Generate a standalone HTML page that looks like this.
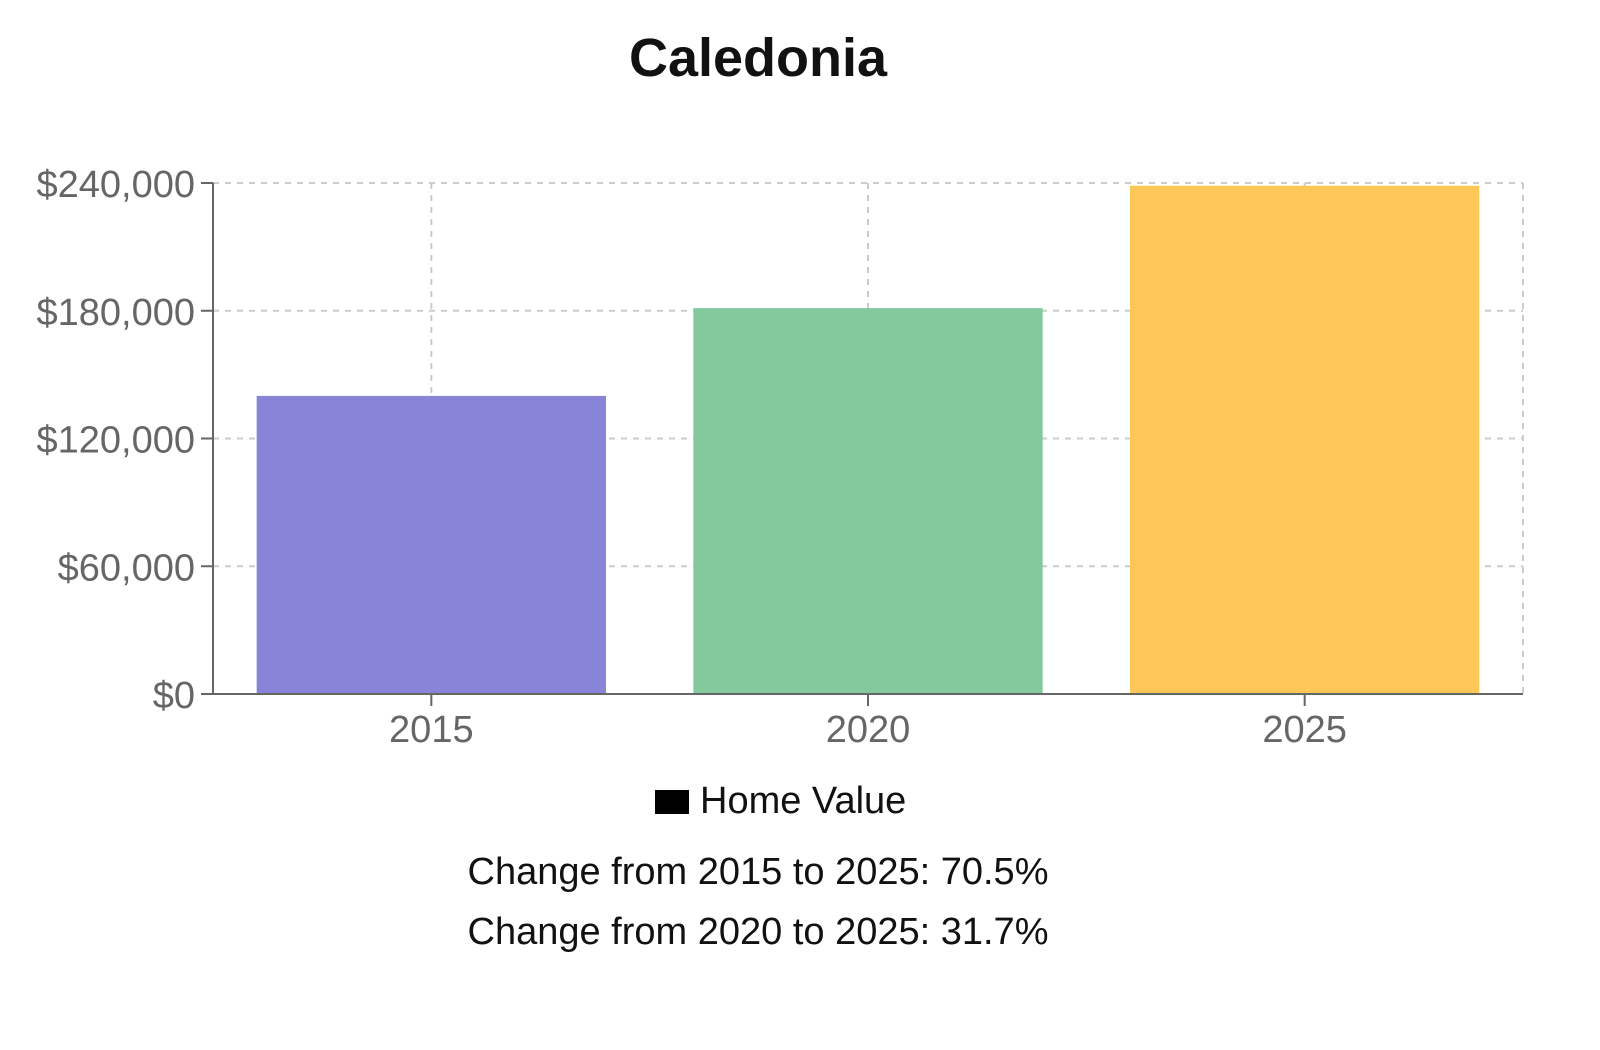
<!DOCTYPE html>
<html><head><meta charset="utf-8"><style>
body{margin:0;background:#fff;width:1600px;height:1045px;overflow:hidden;font-family:"Liberation Sans",Arial,sans-serif}
</style></head><body>
<svg width="1600" height="1045" id="c">
<text x="758" y="76" text-anchor="middle" font-size="54" font-weight="bold" fill="#111">Caledonia</text>
<g id="grid"></g>
<g id="bars"></g>
<g id="axes"></g>
<rect x="655" y="790" width="34" height="24" fill="#000"/>
<text x="700" y="813" font-size="38" fill="#111">Home Value</text>
<text x="758" y="884" text-anchor="middle" font-size="38" fill="#111">Change from 2015 to 2025: 70.5%</text>
<text x="758" y="944" text-anchor="middle" font-size="38" fill="#111">Change from 2020 to 2025: 31.7%</text>
</svg>
<script>
const categories=["2015","2020","2025"];
const values=[140000,181250,238700];
const colors=["#8884d8","#82ca9d","#ffc658"];
const yTicks=[0,60000,120000,180000,240000];
const yTickLabels=["$0","$60,000","$120,000","$180,000","$240,000"];
const ns="http://www.w3.org/2000/svg";
const L=213,R=1523,T=183,B=694,yMax=240000;
const y=v=>B-(v/yMax)*(B-T);
const band=(R-L)/categories.length;
const xc=i=>L+band*(i+0.5);
function mk(tag,a,p){const e=document.createElementNS(ns,tag);for(const k in a)e.setAttribute(k,a[k]);p.appendChild(e);return e;}
const grid=document.getElementById('grid'),bars=document.getElementById('bars'),axes=document.getElementById('axes');
yTicks.forEach((t,i)=>{
 if(t>0){const g=mk('line',{x1:L,x2:R,y1:y(t),y2:y(t),stroke:'#ccc','stroke-dasharray':'6 6','stroke-width':2},grid);
 
 }
 const tk=mk('line',{x1:L-12,x2:L,y1:y(t),y2:y(t),stroke:'#666','stroke-width':2},axes);
 
 
 const tx=mk('text',{x:L-18,y:y(t)+14,'text-anchor':'end','font-size':38,fill:'#666'},axes);
 tx.textContent=yTickLabels[i];
 
 
});
categories.forEach((c,i)=>{
 const g=mk('line',{x1:xc(i),x2:xc(i),y1:T,y2:B,stroke:'#ccc','stroke-dasharray':'6 6','stroke-width':2},grid);
 
 
});
const rv=mk('line',{x1:R,x2:R,y1:T,y2:B,stroke:'#ccc','stroke-dasharray':'6 6','stroke-width':2},grid);


const pad=band*0.1;
categories.forEach((c,i)=>{
 const r=mk('rect',{x:L+band*i+pad,y:y(values[i]),width:band-2*pad,height:B-y(values[i]),fill:colors[i]},bars);
 
 
 const tk=mk('line',{x1:xc(i),x2:xc(i),y1:B,y2:B+12,stroke:'#666','stroke-width':2},axes);
 
 
 const tx=mk('text',{x:xc(i),y:B+48,'text-anchor':'middle','font-size':38,fill:'#666'},axes);
 tx.textContent=c;
 
 
});
const xa=mk('line',{x1:L,x2:R,y1:B,y2:B,stroke:'#666','stroke-width':2},axes);


const ya=mk('line',{x1:L,x2:L,y1:T,y2:B,stroke:'#666','stroke-width':2},axes);


</script>
</body></html>
